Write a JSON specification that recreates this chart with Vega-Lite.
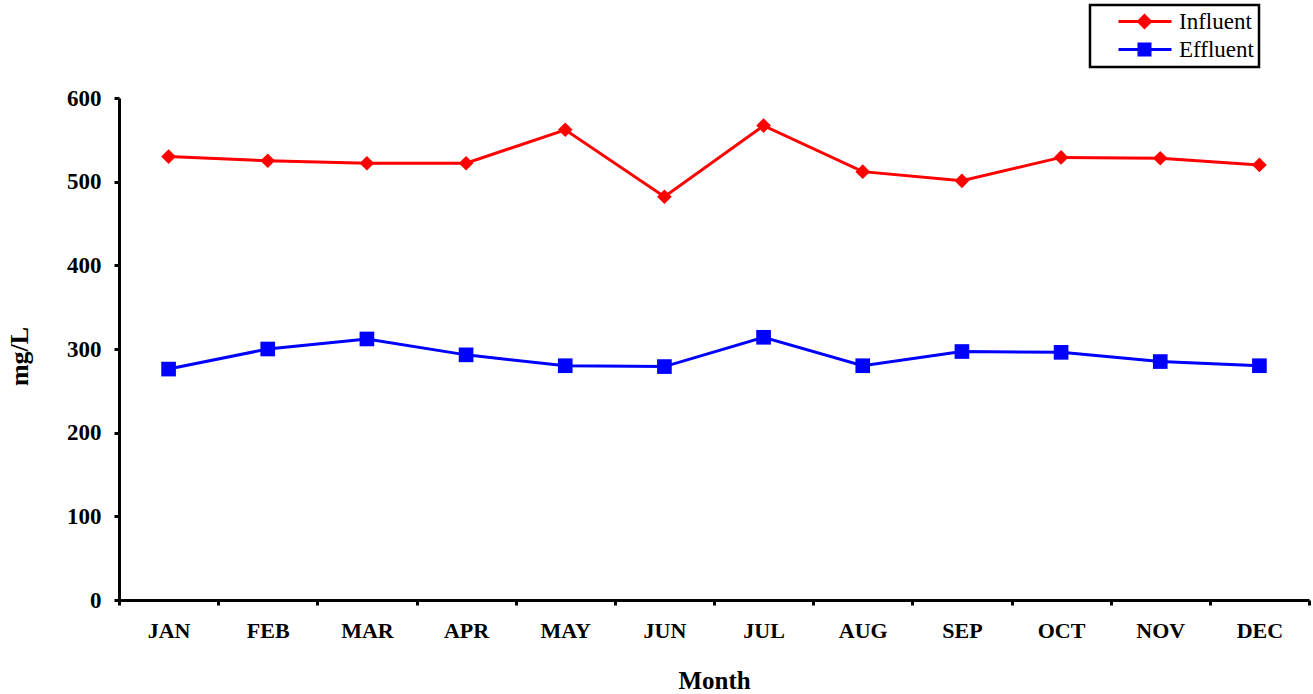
{
  "$schema": "https://vega.github.io/schema/vega-lite/v6.json",
  "autosize": {"type": "none"},
  "width": 1190,
  "height": 502,
  "padding": {"left": 119, "top": 98, "right": 4, "bottom": 94},
  "background": "white",
  "config": {
    "view": {"stroke": null},
    "font": "Liberation Serif",
    "legend": {"labelFont": "Liberation Serif"}
  },
  "data": {
    "values": [
      {"month": "JAN", "series": "Influent", "value": 530},
      {"month": "FEB", "series": "Influent", "value": 525},
      {"month": "MAR", "series": "Influent", "value": 522},
      {"month": "APR", "series": "Influent", "value": 522},
      {"month": "MAY", "series": "Influent", "value": 562},
      {"month": "JUN", "series": "Influent", "value": 482},
      {"month": "JUL", "series": "Influent", "value": 567},
      {"month": "AUG", "series": "Influent", "value": 512},
      {"month": "SEP", "series": "Influent", "value": 501},
      {"month": "OCT", "series": "Influent", "value": 529},
      {"month": "NOV", "series": "Influent", "value": 528},
      {"month": "DEC", "series": "Influent", "value": 520},
      {"month": "JAN", "series": "Effluent", "value": 276},
      {"month": "FEB", "series": "Effluent", "value": 300},
      {"month": "MAR", "series": "Effluent", "value": 312},
      {"month": "APR", "series": "Effluent", "value": 293},
      {"month": "MAY", "series": "Effluent", "value": 280},
      {"month": "JUN", "series": "Effluent", "value": 279},
      {"month": "JUL", "series": "Effluent", "value": 314},
      {"month": "AUG", "series": "Effluent", "value": 280},
      {"month": "SEP", "series": "Effluent", "value": 297},
      {"month": "OCT", "series": "Effluent", "value": 296},
      {"month": "NOV", "series": "Effluent", "value": 285},
      {"month": "DEC", "series": "Effluent", "value": 280}
    ]
  },
  "encoding": {
    "x": {
      "field": "month",
      "type": "ordinal",
      "sort": ["JAN","FEB","MAR","APR","MAY","JUN","JUL","AUG","SEP","OCT","NOV","DEC"],
      "scale": {"type": "band", "paddingInner": 0, "paddingOuter": 0},
      "axis": {
        "title": "Month",
        "titleFont": "Liberation Serif",
        "titleFontWeight": "bold",
        "titleFontSize": 25,
        "titleColor": "black",
        "titleBaseline": "middle",
        "titleY": 80,
        "labelFont": "Liberation Serif",
        "labelFontWeight": "bold",
        "labelFontSize": 22,
        "labelColor": "black",
        "labelPadding": 15,
        "labelAngle": 0,
        "tickBand": "extent",
        "tickSize": 5,
        "tickWidth": 3,
        "tickColor": "black",
        "domainColor": "black",
        "domainWidth": 3,
        "grid": false
      }
    },
    "y": {
      "field": "value",
      "type": "quantitative",
      "scale": {"domain": [0, 600], "nice": false, "zero": true},
      "axis": {
        "title": "mg/L",
        "values": [0, 100, 200, 300, 400, 500, 600],
        "titleFont": "Liberation Serif",
        "titleFontWeight": "bold",
        "titleFontSize": 26,
        "titleColor": "black",
        "titleX": -100,
        "titleY": 258,
        "titleAlign": "center",
        "titleBaseline": "middle",
        "labelFont": "Liberation Serif",
        "labelFontWeight": "bold",
        "labelFontSize": 23,
        "labelColor": "black",
        "labelPadding": 13,
        "tickSize": 5,
        "tickWidth": 3,
        "tickColor": "black",
        "domainColor": "black",
        "domainWidth": 3,
        "grid": false
      }
    },
    "color": {
      "field": "series",
      "type": "nominal",
      "sort": ["Influent", "Effluent"],
      "scale": {"domain": ["Influent", "Effluent"], "range": ["#ff0000", "#0000ff"]},
      "legend": {
        "title": null,
        "orient": "none",
        "legendX": 971,
        "legendY": -93,
        "padding": 5,
        "strokeColor": "black",
        "fillColor": "white",
        "symbolSize": 400,
        "symbolStrokeWidth": 0,
        "labelOffset": 61,
        "labelFont": "Liberation Serif",
        "labelFontSize": 23,
        "labelColor": "black",
        "rowPadding": 4,
        "encode": {
          "legend": {"update": {"strokeWidth": {"value": 2.5}}},
          "labels": {"update": {"font": {"value": "Liberation Serif"}}},
          "symbols": {
            "update": {
              "shape": {"signal": "datum.value === 'Influent' ? 'M1.2,-0.15L6.5,-0.15L6.5,0.15L1.2,0.15Z M3.8,-0.8L4.6,0L3.8,0.8L3,0Z' : 'M1.2,-0.15L6.5,-0.15L6.5,0.15L1.2,0.15Z M3.1,-0.7L4.5,-0.7L4.5,0.7L3.1,0.7Z'"},
              "size": {"value": 400},
              "fill": {"scale": "color", "field": "value"},
              "stroke": {"value": "transparent"},
              "opacity": {"value": 1},
              "fillOpacity": {"value": 1}
            }
          }
        }
      }
    }
  },
  "layer": [
    {"mark": {"type": "line", "strokeWidth": 3}},
    {
      "transform": [{"filter": "datum.series === 'Influent'"}],
      "mark": {"type": "point", "filled": true, "opacity": 1, "shape": "diamond", "size": 215}
    },
    {
      "transform": [{"filter": "datum.series === 'Effluent'"}],
      "mark": {"type": "point", "filled": true, "opacity": 1, "shape": "square", "size": 215}
    }
  ]
}
